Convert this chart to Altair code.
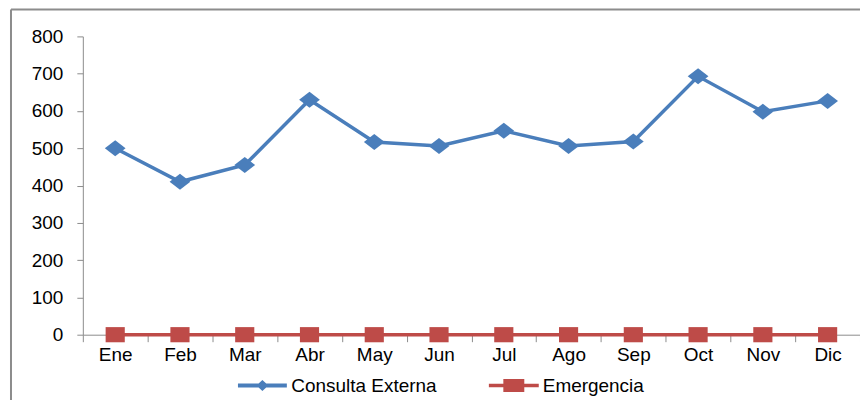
import altair as alt
import pandas as pd

months = ["Ene", "Feb", "Mar", "Abr", "May", "Jun", "Jul", "Ago", "Sep", "Oct", "Nov", "Dic"]
consulta = [500, 410, 455, 630, 517, 506, 547, 506, 518, 693, 598, 627]
emergencia = [0, 0, 0, 0, 0, 0, 0, 0, 0, 0, 0, 0]
series_names = ["Consulta Externa", "Emergencia"]
colors = ["#4A7EBB", "#BE4B48"]
y_ticks = [0, 100, 200, 300, 400, 500, 600, 700, 800]

rows = []
for m, v in zip(months, consulta):
    rows.append({"mes": m, "valor": v, "serie": series_names[0]})
for m, v in zip(months, emergencia):
    rows.append({"mes": m, "valor": v, "serie": series_names[1]})
df = pd.DataFrame(rows)

FONT = "Liberation Sans"
AX = "#8C8C8C"
FS = 19

x_enc = alt.X("mes:N", sort=months, title=None,
              scale=alt.Scale(type="band", paddingInner=0, paddingOuter=0),
              axis=alt.Axis(tickBand="extent", labelAngle=0, domainColor=AX, tickColor=AX,
                            tickSize=7, labelPadding=4, labelFontSize=FS, labelFont=FONT,
                            labelColor="#000000", grid=False))
y_enc = alt.Y("valor:Q", title=None,
              scale=alt.Scale(domain=[0, 800], nice=False),
              axis=alt.Axis(values=y_ticks, domainColor=AX, tickColor=AX, tickSize=6,
                            labelPadding=14, labelFontSize=FS, labelFont=FONT,
                            labelColor="#000000", grid=False))
color_scale = alt.Scale(domain=series_names, range=colors)

base = alt.Chart(df)
base_c = base.transform_filter(alt.datum.serie == series_names[0])
base_e = base.transform_filter(alt.datum.serie == series_names[1])

line_c = base_c.mark_line(strokeWidth=3.5, color=colors[0]).encode(x=x_enc, y=y_enc)
line_e = base_e.mark_line(strokeWidth=3.5, color=colors[1]).encode(x=x_enc, y=y_enc)

diamond_path = "M-1.3,0L0,-1L1.3,0L0,1Z"
square_path = "M-1.2,-0.95H1.2V0.95H-1.2Z"

pts_c = base_c.mark_point(
    shape=diamond_path, filled=True, size=256, opacity=1, color=colors[0]
).encode(x=x_enc, y=y_enc)

pts_e = base_e.mark_point(
    shape=square_path, filled=True, size=256, opacity=1, color=colors[1]
).encode(x=x_enc, y=y_enc)

leg_c = "M-2.45,-0.2H2.45V0.2H-2.45Z M0,-0.55L0.6,0L0,0.55L-0.6,0Z"
leg_e = "M-2.5,-0.18H2.5V0.18H-2.5Z M-1.05,-0.65H1.05V0.65H-1.05Z"

leg_props = dict(title=None, orient="none", direction="horizontal",
                 legendX=170, legendY=340, symbolSize=400,
                 symbolOpacity=1, symbolStrokeWidth=0,
                 labelOffset=19, columnPadding=52, padding=0,
                 labelFontSize=FS, labelFont=FONT, labelColor="#000000")

legend_layer = base.mark_point(filled=True, opacity=0, size=400).encode(
    x=x_enc, y=y_enc,
    color=alt.Color("serie:N", scale=color_scale, legend=alt.Legend(**leg_props)),
    shape=alt.Shape("serie:N", scale=alt.Scale(domain=series_names, range=[leg_c, leg_e]),
                    legend=alt.Legend(**leg_props)),
)

frame_left = alt.Chart(pd.DataFrame({"k": [0]})).mark_rule(color=AX, strokeWidth=2).encode(
    x=alt.value(-72), y=alt.value(-27), y2=alt.value(380)
)
frame_top = alt.Chart(pd.DataFrame({"k": [0]})).mark_rule(color=AX, strokeWidth=2).encode(
    x=alt.value(-72), x2=alt.value(785), y=alt.value(-27)
)

chart = alt.layer(frame_left, frame_top, line_c, line_e, pts_c, pts_e, legend_layer).properties(
    width=779, height=299,
    autosize=alt.AutoSizeParams(type="none"),
    padding={"left": 75, "top": 28, "right": 0, "bottom": 65},
).configure(background="#FFFFFF").configure_view(stroke=None)

chart.save("out.html", embed_options={"renderer": "svg", "actions": False})
